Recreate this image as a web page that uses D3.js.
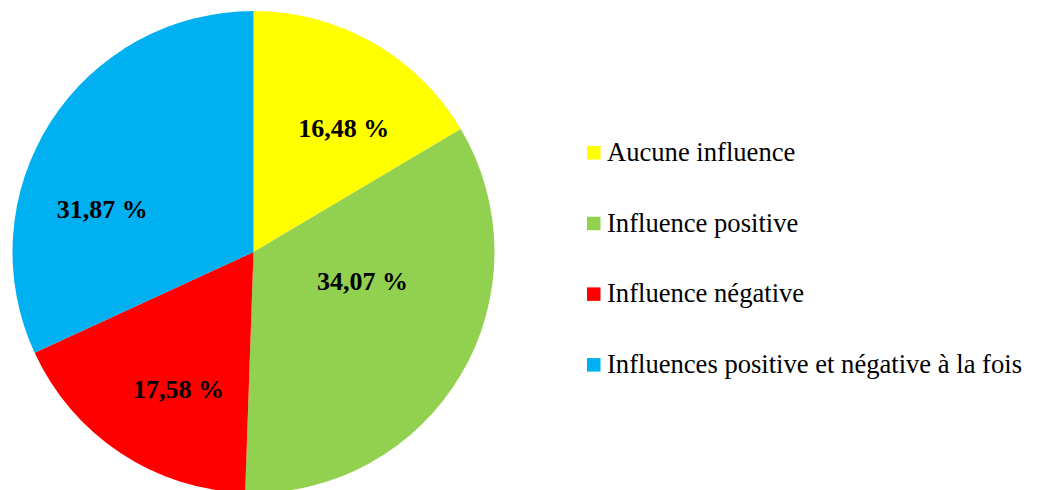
<!DOCTYPE html>
<html>
<head>
<meta charset="utf-8">
<script src="https://cdn.jsdelivr.net/npm/d3@7"></script>
<style>
  body { margin: 0; background: #fff; }
  text { font-family: "Liberation Serif", "Times New Roman", serif; }
</style>
</head>
<body>
<script>
// data
var categories = ["Aucune influence", "Influence positive", "Influence négative", "Influences positive et négative à la fois"]
var values = [16.48, 34.07, 17.58, 31.87]
var labels = ["16,48 %", "34,07 %", "17,58 %", "31,87 %"]
var colors = ["#FFFF00", "#92D050", "#FF0000", "#00B0F0"]

// layout
var width = 1037, height = 490
var cx = 253.5, cy = 252, radius = 241
// small label nudges (Excel "best fit" placement)
var labelShift = [[16, 6], [-20, -48], [8, 12], [-25, 38]]

var svg = d3.select("body")
  .append("svg")
  .attr("width", width)
  .attr("height", height)

var g = svg.append("g")
  .attr("transform", "translate(" + cx + "," + cy + ")")

var pie = d3.pie().sort(null).value(function(d){ return d; })
var arcs = pie(values)

var arc = d3.arc().innerRadius(0).outerRadius(radius)
var labelArc = d3.arc().innerRadius(150).outerRadius(150)

g.selectAll("path").data(arcs).enter().append("path")
  .attr("d", arc)
  .attr("fill", function(d, i){ return colors[i]; })

g.selectAll("text").data(arcs).enter().append("text")
  .attr("x", function(d, i){ return labelArc.centroid(d)[0] + labelShift[i][0]; })
  .attr("y", function(d, i){ return labelArc.centroid(d)[1] + labelShift[i][1]; })
  .attr("dy", "0.35em")
  .attr("text-anchor", "middle")
  .style("font-size", "26px")
  .style("font-weight", "bold")
  .attr("fill", "#000")
  .text(function(d, i){ return labels[i]; })

// legend
var legend = svg.append("g").attr("transform", "translate(587,146)")
var rows = legend.selectAll("g").data(categories).enter().append("g")
  .attr("transform", function(d, i){ return "translate(0," + (i * 70.7) + ")"; })

rows.append("rect")
  .attr("width", 13.5)
  .attr("height", 13.5)
  .attr("fill", function(d, i){ return colors[i]; })

rows.append("text")
  .attr("x", 20)
  .attr("y", 15)
  .style("font-size", "26.6px")
  .attr("fill", "#000")
  .text(function(d){ return d; })
</script>
</body>
</html>
